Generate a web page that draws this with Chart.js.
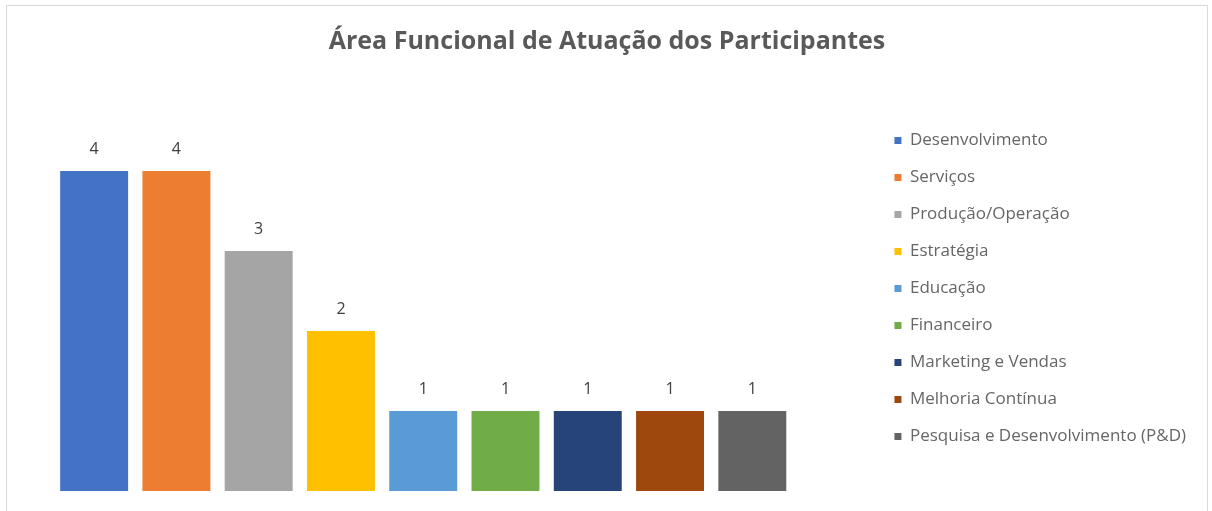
<!DOCTYPE html>
<html>
<head>
<meta charset="utf-8">
<script src="https://cdn.jsdelivr.net/npm/chart.js@4"></script>
<style>
  html, body { margin: 0; padding: 0; background: #fff; }
  #wrap { position: relative; width: 1212px; height: 511px; overflow: hidden; }
  #frame { position: absolute; left: 6px; top: 5px; width: 1200px; height: 540px; border: 1px solid #d9d9d9; pointer-events: none; }
  canvas { position: absolute; left: 0; top: 0; }
</style>
</head>
<body>
<div id="wrap">
  <canvas id="chart" width="1212" height="511"></canvas>
  <div id="frame"></div>
</div>
<script>
// dados do gráfico
const areas = [
  'Desenvolvimento',
  'Serviços',
  'Produção/Operação',
  'Estratégia',
  'Educação',
  'Financeiro',
  'Marketing e Vendas',
  'Melhoria Contínua',
  'Pesquisa e Desenvolvimento (P&D)'
];
const participantes = [4, 4, 3, 2, 1, 1, 1, 1, 1];
const cores = ['#4472C4', '#ED7D31', '#A5A5A5', '#FFC000', '#5B9BD5', '#70AD47', '#264478', '#9E480E', '#636363'];

const FONT = "'Open Sans', 'Noto Sans', sans-serif";

// rótulos de valor acima das barras
const valueLabels = {
  id: 'valueLabels',
  afterDatasetsDraw(chart) {
    const ctx = chart.ctx;
    const meta = chart.getDatasetMeta(0);
    ctx.save();
    ctx.font = '16px ' + FONT;
    ctx.fillStyle = '#404040';
    ctx.textAlign = 'center';
    ctx.textBaseline = 'alphabetic';
    meta.data.forEach((bar, i) => {
      ctx.fillText(String(participantes[i]), bar.x, bar.y - 17);
    });
    ctx.restore();
  }
};

const ctx = document.getElementById('chart').getContext('2d');
new Chart(ctx, {
  type: 'bar',
  data: {
    labels: areas,
    datasets: [{
      label: 'Participantes',
      data: participantes,
      backgroundColor: cores,
      borderWidth: 0,
      categoryPercentage: 1,
      barPercentage: 0.826
    }]
  },
  options: {
    responsive: false,
    animation: false,
    layout: { padding: { left: 18, right: 16, top: 0, bottom: 20 } },
    scales: {
      x: { display: false },
      y: {
        display: false,
        min: 0,
        max: 4.5,
        afterFit(s) { s.width = 35; }
      },
      // espaço vazio entre a área das barras e a legenda
      gap: {
        position: 'right',
        display: false,
        afterFit(s) { s.width = 81; }
      }
    },
    plugins: {
      title: {
        display: true,
        text: 'Área Funcional de Atuação dos Participantes',
        color: '#595959',
        font: { family: FONT, size: 25, weight: 'bold' },
        padding: { top: 27, bottom: 74 }
      },
      legend: {
        position: 'right',
        title: {
          display: true,
          text: ' ',
          font: { size: 10 },
          padding: { top: 0, bottom: 74 }
        },
        labels: {
          color: '#595959',
          font: { family: FONT, size: 17 },
          boxWidth: 7,
          boxHeight: 7,
          padding: 20,
          generateLabels(chart) {
            return areas.map((a, i) => ({
              text: a,
              fillStyle: cores[i],
              strokeStyle: cores[i],
              lineWidth: 0,
              hidden: false,
              index: i
            }));
          }
        }
      },
      tooltip: { enabled: false }
    }
  },
  plugins: [valueLabels]
});
</script>
</body>
</html>
